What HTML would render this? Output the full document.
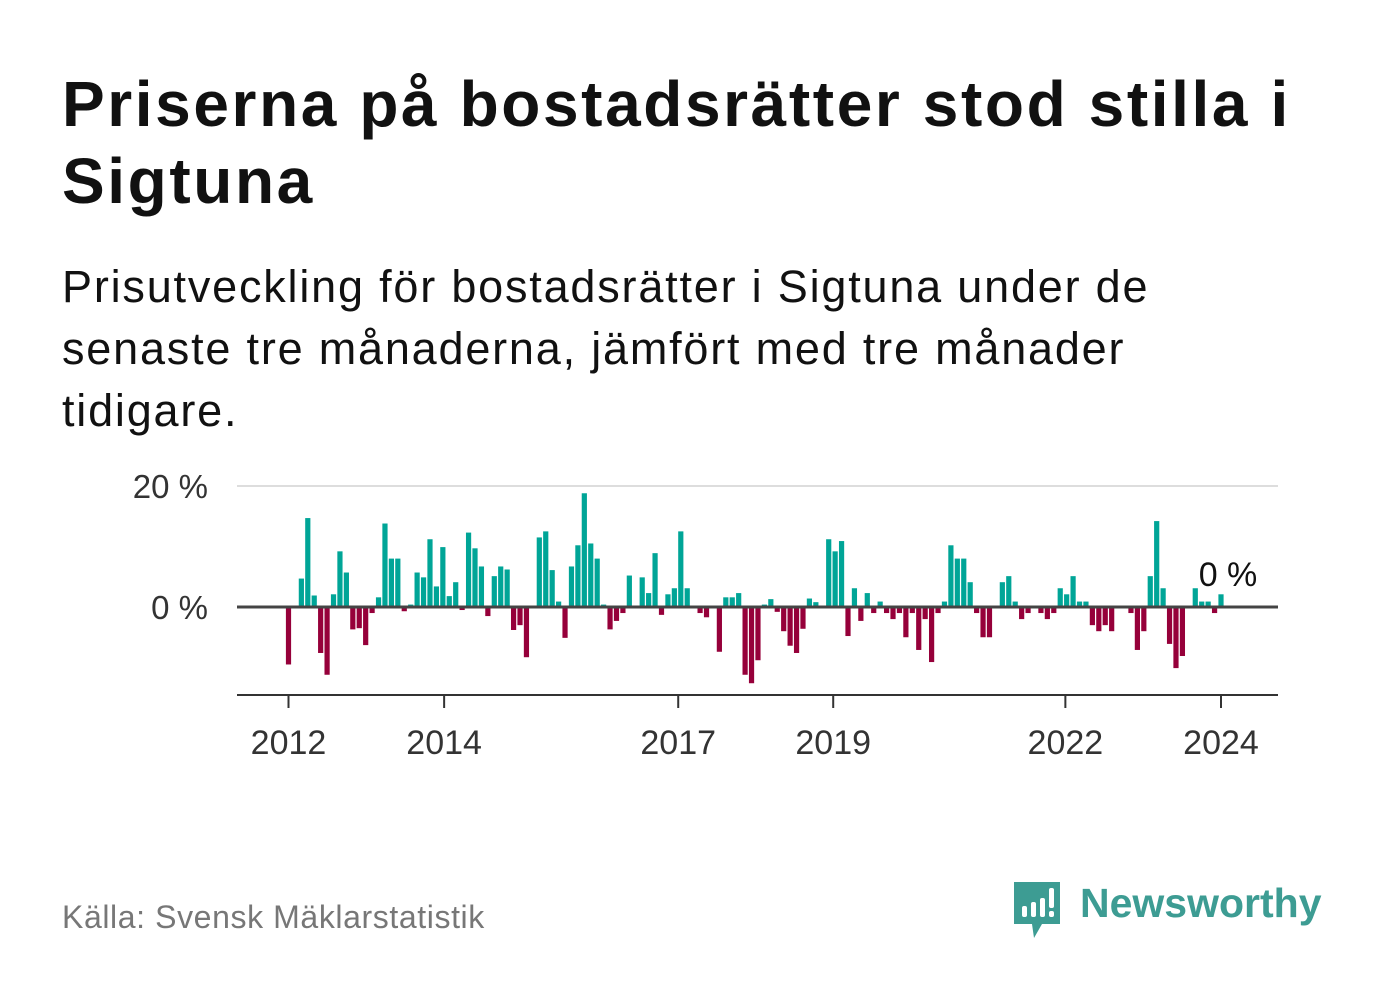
<!DOCTYPE html>
<html><head><meta charset="utf-8"><style>
body{margin:0;width:1382px;height:999px;background:#fff;font-family:"Liberation Sans",sans-serif;overflow:hidden;position:relative}
.t{position:absolute;left:62px;top:66px;font-size:64px;font-weight:bold;color:#111;line-height:77px;width:1310px;letter-spacing:2.6px}
.s{position:absolute;left:62px;top:256px;font-size:45px;color:#111;line-height:62px;width:1165px;letter-spacing:1.8px}
.src{position:absolute;left:62px;top:899px;font-size:32px;color:#777;letter-spacing:0.6px}
.logo{position:absolute;left:1080px;top:880px;font-size:41px;font-weight:bold;color:#3d9c93}
</style></head><body>
<div class="t">Priserna på bostadsrätter stod stilla i Sigtuna</div>
<div class="s">Prisutveckling för bostadsrätter i Sigtuna under de senaste tre månaderna, jämfört med tre månader tidigare.</div>
<svg id="chart" width="1382" height="999" style="position:absolute;left:0;top:0"></svg>
<div class="src">Källa: Svensk Mäklarstatistik</div>
<svg width="52" height="60" style="position:absolute;left:1012px;top:880px">
<path d="M2 2 H48 V44 H30 L22 58 L20 44 H2 Z" fill="#3d9c93"/>
<rect x="10" y="26" width="5" height="11" rx="2" fill="#fff"/><rect x="19" y="22" width="5" height="15" rx="2" fill="#fff"/><rect x="28" y="18" width="5" height="19" rx="2" fill="#fff"/><rect x="37" y="8" width="5" height="20" rx="2" fill="#fff"/><rect x="37" y="31" width="5" height="6" rx="2" fill="#fff"/>
</svg>
<div class="logo">Newsworthy</div>
<script>
const values=[-9.5,0,4.7,14.7,1.9,-7.6,-11.2,2.1,9.2,5.7,-3.7,-3.5,-6.3,-1.0,1.6,13.8,8.0,8.0,-0.7,0.4,5.7,4.9,11.2,3.4,9.9,1.8,4.1,-0.5,12.3,9.7,6.7,-1.5,5.1,6.7,6.2,-3.8,-3.0,-8.3,0,11.5,12.5,6.1,0.9,-5.1,6.7,10.2,18.8,10.5,8.0,0.4,-3.7,-2.3,-1.0,5.2,0,4.9,2.3,8.9,-1.3,2.1,3.1,12.5,3.1,0,-1.0,-1.7,0,-7.4,1.6,1.6,2.3,-11.2,-12.6,-8.8,0.4,1.3,-0.8,-4.0,-6.4,-7.6,-3.6,1.4,0.8,0,11.2,9.2,10.9,-4.8,3.1,-2.3,2.3,-1.0,0.9,-1.0,-2.0,-1.0,-5.0,-1.0,-7.1,-2.0,-9.1,-1.0,0.9,10.2,8.0,8.0,4.1,-1.0,-5.0,-5.0,0,4.1,5.1,0.9,-2.0,-1.0,0,-1.0,-2.0,-1.0,3.1,2.1,5.1,0.9,0.9,-3.0,-4.0,-3.0,-4.0,0,0,-1.0,-7.1,-4.0,5.1,14.2,3.1,-6.1,-10.1,-8.1,0,3.1,0.9,0.9,-1.0,2.1];
const xTickLabels=["2012","2014","2017","2019","2022","2024"];
const xTickIndex=[0,24.2,60.6,84.7,120.8,145];
const yTicks=[0,20];
const yTickLabels=["0 %","20 %"];
const lastLabel="0 %";
const NS="http://www.w3.org/2000/svg",svg=document.getElementById('chart');
const x=i=>288.5+i*(1221-288.5)/145;
const y=v=>607-v*6.05;
function mk(t,a,txt){const e=document.createElementNS(NS,t);for(const k in a)e.setAttribute(k,a[k]);if(txt!==undefined)e.textContent=txt;svg.appendChild(e);return e;}
yTicks.forEach((v,i)=>{
 if(v!==0){const g=mk('line',{x1:237,x2:1278,y1:y(v),y2:y(v),stroke:'#ddd','stroke-width':2});
 
 }
 const t=mk('text',{x:208,y:y(v)+12,'text-anchor':'end','font-size':33,fill:'#333','font-family':'Liberation Sans'},yTickLabels[i]);
 
 
});
values.forEach((v,i)=>{
 const r=mk('rect',{x:x(i)-2.6,width:5.2,y:Math.min(y(v),y(0)),height:Math.abs(y(v)-y(0)),fill:v>=0?'#00a597':'#96003a'});
 
 
});
const z=mk('line',{x1:237,x2:1278,y1:y(0),y2:y(0),stroke:'#444','stroke-width':3});


const ax=mk('line',{x1:237,x2:1278,y1:695,y2:695,stroke:'#333','stroke-width':2});


xTickIndex.forEach((p,i)=>{
 const tk=mk('line',{x1:x(p),x2:x(p),y1:695,y2:708,stroke:'#333','stroke-width':2});
 
 
 const t=mk('text',{x:x(p),y:754,'text-anchor':'middle','font-size':34,fill:'#333','font-family':'Liberation Sans'},xTickLabels[i]);
 
 
});
const ll=mk('text',{x:x(values.length-1)+7,y:586,'text-anchor':'middle','font-size':34,fill:'#111','font-family':'Liberation Sans'},lastLabel);


</script>
</body></html>
